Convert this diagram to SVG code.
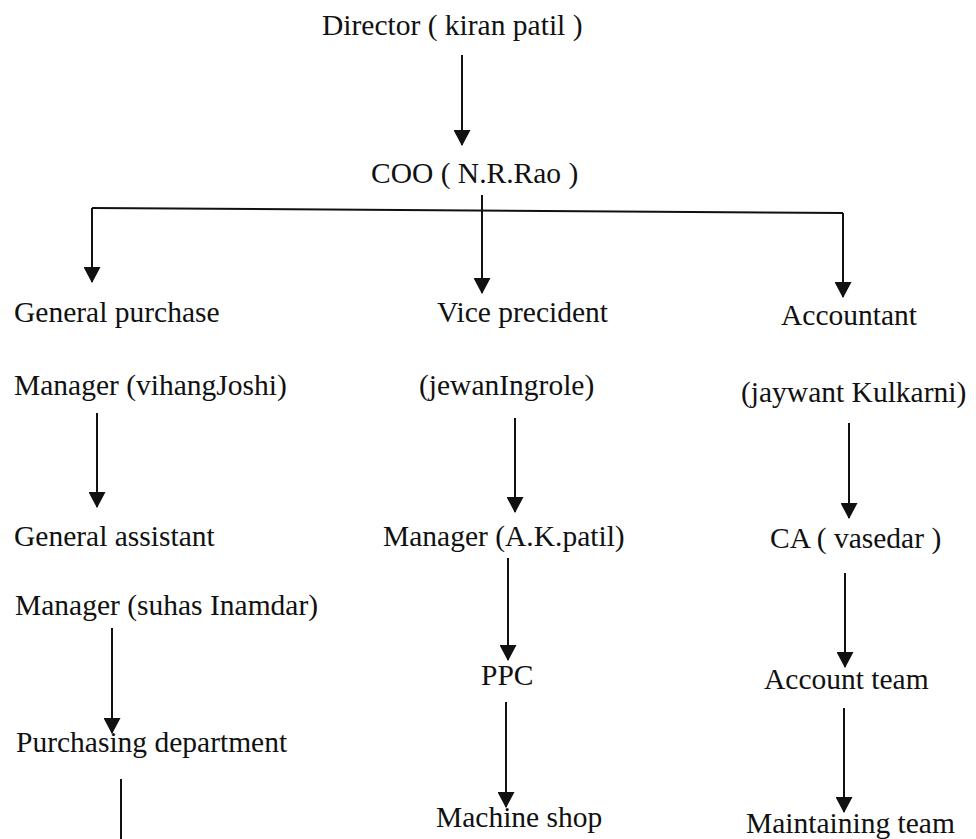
<svg xmlns="http://www.w3.org/2000/svg" width="976" height="839" viewBox="0 0 976 839">
  <defs>
    <!-- arrowhead drawn along +x so orient="auto" turns it to the line direction -->
    <marker id="arrowhead" markerUnits="userSpaceOnUse" markerWidth="16" markerHeight="17" refX="15" refY="8.5" orient="auto" viewBox="0 0 16 17">
      <path d="M0,0 L16,8.5 L0,17 Z" fill="#111"/>
    </marker>
  </defs>
  <style>
    .label { font-family: "Liberation Serif", "Times New Roman", serif; font-size: 29.5px; fill: #111; }
    .link { stroke: #111; stroke-width: 2; fill: none; }
    .arrow { marker-end: url(#arrowhead); }
  </style>
  <rect width="976" height="839" fill="#fff"/>

  <!-- connectors -->
  <g id="connectors">
    <line class="link arrow" x1="462" y1="55" x2="462" y2="145"/>
    <line class="link" x1="92" y1="208" x2="843" y2="213"/>
    <line class="link arrow" x1="92" y1="208" x2="92" y2="282"/>
    <line class="link arrow" x1="482" y1="195" x2="482" y2="293"/>
    <line class="link arrow" x1="843" y1="213" x2="843" y2="297"/>
    <!-- purchase branch -->
    <line class="link arrow" x1="97" y1="413" x2="97" y2="507"/>
    <line class="link arrow" x1="112" y1="628" x2="112" y2="733"/>
    <line class="link" x1="121" y1="779" x2="121" y2="839"/>
    <!-- vice president branch -->
    <line class="link arrow" x1="515" y1="418" x2="515" y2="512"/>
    <line class="link arrow" x1="508" y1="558" x2="508" y2="660"/>
    <line class="link arrow" x1="506" y1="702" x2="506" y2="807"/>
    <!-- accounts branch -->
    <line class="link arrow" x1="849" y1="423" x2="849" y2="518"/>
    <line class="link arrow" x1="845" y1="573" x2="845" y2="667"/>
    <line class="link arrow" x1="844" y1="708" x2="844" y2="812"/>
  </g>

  <g id="director"><text class="label" x="322" y="35">Director ( kiran patil )</text></g>
  <g id="coo"><text class="label" x="371" y="183">COO ( N.R.Rao )</text></g>

  <g id="general-purchase"><text class="label" x="14" y="322">General purchase</text></g>
  <g id="manager-vihang"><text class="label" x="14" y="395">Manager (vihangJoshi)</text></g>
  <g id="general-assistant"><text class="label" x="14" y="546">General assistant</text></g>
  <g id="manager-suhas"><text class="label" x="15" y="615">Manager (suhas Inamdar)</text></g>
  <g id="purchasing-department"><text class="label" x="16" y="752">Purchasing department</text></g>

  <g id="vice-president"><text class="label" x="437" y="322">Vice precident</text></g>
  <g id="vp-name"><text class="label" x="419" y="395">(jewanIngrole)</text></g>
  <g id="manager-ak"><text class="label" x="383" y="546">Manager (A.K.patil)</text></g>
  <g id="ppc"><text class="label" x="481" y="685">PPC</text></g>
  <g id="machine-shop"><text class="label" x="436" y="827">Machine shop</text></g>

  <g id="accountant"><text class="label" x="781" y="325">Accountant</text></g>
  <g id="accountant-name"><text class="label" x="741" y="402">(jaywant Kulkarni)</text></g>
  <g id="ca"><text class="label" x="770" y="548">CA ( vasedar )</text></g>
  <g id="account-team"><text class="label" x="764" y="689">Account team</text></g>
  <g id="maintaining-team"><text class="label" x="746" y="833">Maintaining team</text></g>
</svg>
